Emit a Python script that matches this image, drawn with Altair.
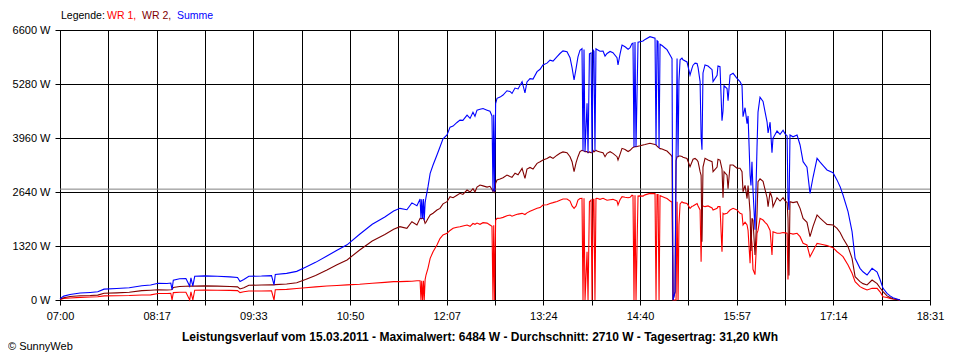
import altair as alt
import pandas as pd

# ---- axis / label data -------------------------------------------------
time_labels = ["07:00", "08:17", "09:33", "10:50", "12:07", "13:24",
               "14:40", "15:57", "17:14", "18:31"]
y_ticks = [0, 1320, 2640, 3960, 5280, 6600]
day_minutes = 691          # 07:00 .. 18:31
average_w = 2710
series_names = ["WR 1", "WR 2", "Summe"]
series_colors = ["#ff0000", "#800000", "#0000ff"]
title_text = ("Leistungsverlauf vom 15.03.2011 - Maximalwert: 6484 W - "
              "Durchschnitt: 2710 W - Tagesertrag: 31,20 kWh")

# ---- measured series (minutes after 07:00, watts) -----------------------
minutes = [
    0, 3, 8, 16, 24, 30, 35, 45, 55, 65, 72, 78, 85, 88, 89, 90, 95, 100, 103, 104,
    105.5, 107, 115, 125, 135, 141, 143, 146, 150, 160, 168, 170, 171, 180, 188, 195, 203, 212, 220, 228,
    238, 248, 258, 265, 270, 275.5, 279.5, 283.5, 286, 286.7, 287.3, 288, 288.7, 289.3, 290, 290.7, 292.3, 294, 296.3, 299.4,
    301.8, 304.2, 307.4, 309.8, 312.2, 315.3, 317.7, 320, 323.3, 325.7, 328, 329.6, 331.2, 333.6, 336, 339.2, 341.5, 343.1, 343.9, 344.5,
    345.2, 346, 347.1, 349.5, 351.9, 355, 357.4, 359, 361.4, 363.8, 367, 369.3, 370.9, 373.3, 375.7, 378.9, 381.3, 383.6, 386.8, 389.2,
    391.6, 394.8, 397.1, 399.5, 402.7, 405.1, 406.7, 408.3, 409.9, 411.4, 413, 414.6, 415.4, 416.2, 417, 418.6, 419.4, 420.5, 421.8, 422.6,
    423.4, 424.1, 424.9, 425.7, 426.5, 428.9, 431.3, 432.9, 434.5, 436.9, 439.2, 442.4, 443.2, 444.8, 446.4, 448.8, 451.2, 452.8, 454.3, 455.1,
    455.9, 456.7, 457.5, 459.1, 460.7, 463.1, 464.7, 468.6, 472.6, 473.4, 474.2, 475, 475.8, 476.6, 478.2, 480.5, 482.1, 485.3, 486.1, 486.9,
    488.5, 489.3, 490.1, 490.9, 491.6, 492.5, 494, 494.8, 498, 500.4, 502, 502.8, 504.4, 506, 506.8, 508.4, 509.2, 509.9, 510.7, 512.3,
    514.7, 517.9, 518.7, 521.9, 522.6, 524.2, 525.8, 526.6, 527.4, 529.8, 530.6, 532.2, 534.6, 537.7, 540.1, 541.7, 542.5, 544.1, 545.7, 546.5,
    548.1, 548.8, 549.6, 550.4, 552, 553.6, 554.4, 556, 558.4, 560, 561.6, 562.4, 564, 565.5, 566.3, 569.5, 571.9, 574.3, 575.9, 577.5,
    578.2, 579, 579.8, 582.2, 585.4, 587.8, 590.2, 593.3, 595.7, 598.1, 601.3, 603.7, 606.5, 609.2, 614, 617.2, 619.6, 621.9, 625.9, 629.1,
    631.5, 635.4, 637.8, 641, 645, 649, 651.3, 653.7, 656.9, 659.3, 661.6, 667.2,
]
wr1 = [
    10, 40, 50, 65, 75, 80, 100, 105, 110, 122, 125, 160, 160, 165, 0, 180, 190, 190, 0, 200,
    0, 240, 245, 240, 235, 230, 180, 200, 220, 220, 225, 0, 250, 260, 280, 300, 320, 342, 355, 370,
    385, 410, 430, 448, 448, 455, 460, 470, 472, 0, 470, 0, 470, 0, 500, 611, 780, 1018, 1180, 1344,
    1500, 1589, 1630, 1700, 1752, 1780, 1790, 1810, 1833, 1800, 1870, 1850, 1880, 1850, 1890, 1880, 1833, 1800, 0, 1830,
    0, 1950, 1996, 2000, 2020, 2060, 2078, 2050, 2080, 2100, 2118, 2090, 2130, 2170, 2200, 2241, 2260, 2322, 2330, 2360,
    2380, 2410, 2440, 2468, 2470, 2420, 2300, 2241, 2300, 2440, 2480, 2485, 0, 2485, 0, 1181, 0, 2400, 2440, 0,
    2460, 2460, 0, 2480, 2485, 2460, 2485, 2460, 2440, 2450, 2460, 2420, 2322, 2450, 2526, 2510, 2500, 2510, 2560, 2550,
    0, 2560, 0, 2540, 2545, 2540, 2570, 2607, 2600, 0, 2580, 2580, 0, 2550, 2530, 2500, 2480, 2403, 2400, 0,
    0, 0, 2403, 0, 1833, 2350, 2403, 2380, 2360, 2241, 2290, 2300, 2330, 2360, 2300, 2200, 937, 2250, 2300, 2282,
    2300, 2250, 2200, 2240, 2282, 2282, 1181, 2120, 2100, 2120, 2150, 2200, 2241, 2200, 2118, 2100, 1833, 1900, 1833, 1700,
    900, 1600, 1380, 750, 620, 1630, 1700, 1996, 1955, 1900, 1850, 1800, 1700, 1100, 1670, 1630, 1630, 1650, 1640, 1630,
    500, 1600, 1630, 1610, 1630, 1548, 1385, 1344, 1059, 1200, 1385, 1370, 1350, 1330, 1279, 1180, 1120, 1059, 856, 652,
    448, 326, 290, 244, 285, 285, 200, 81, 60, 40, 25, 0,
]
wr2 = [
    20, 55, 85, 105, 110, 120, 165, 175, 190, 228, 240, 250, 245, 250, 255, 305, 330, 335, 340, 340,
    340, 340, 345, 340, 330, 320, 270, 300, 360, 365, 370, 370, 375, 390, 420, 500, 600, 733, 860, 978,
    1222, 1440, 1600, 1727, 1792, 1752, 1914, 1833, 1996, 1990, 1990, 2000, 2000, 1950, 1874, 1900, 1990, 2078, 2120, 2200,
    2240, 2350, 2403, 2526, 2500, 2560, 2607, 2580, 2688, 2640, 2720, 2640, 2760, 2811, 2790, 2760, 2780, 2700, 2650, 2700,
    2650, 2850, 2933, 2960, 2990, 3055, 3020, 3000, 3100, 3060, 3218, 2974, 3200, 3240, 3200, 3340, 3380, 3422, 3460, 3503,
    3460, 3540, 3585, 3620, 3600, 3503, 3381, 3137, 3360, 3503, 3626, 3660, 3650, 3640, 3626, 3626, 3600, 3620, 3600, 3600,
    3650, 3620, 3640, 3660, 3640, 3620, 3600, 3503, 3585, 3626, 3585, 3503, 3422, 3560, 3707, 3680, 3630, 3660, 3707, 3730,
    3740, 3748, 3748, 3760, 3770, 3790, 3800, 3830, 3800, 3790, 3760, 3740, 3720, 3700, 3690, 3660, 3640, 3544, 3500, 0,
    200, 3400, 3500, 3500, 3520, 3520, 3510, 3490, 3460, 3259, 3380, 3440, 3460, 3420, 3380, 3137, 3050, 1426, 3250, 3463,
    3420, 3380, 3137, 3250, 3440, 3420, 3200, 2500, 3137, 3050, 2720, 3300, 3300, 3220, 3220, 3137, 2647, 2800, 2480, 2800,
    2150, 1200, 2000, 1950, 1100, 2100, 2892, 2960, 2900, 2700, 2500, 2282, 2647, 2500, 2282, 2500, 2420, 2500, 2420, 2380,
    2000, 600, 2403, 2380, 2403, 2241, 1996, 1900, 1548, 1800, 2078, 2000, 1920, 1849, 1833, 1750, 1650, 1507, 1304, 1018,
    570, 448, 400, 367, 489, 400, 300, 204, 100, 60, 30, 0,
]
# "Summe" is by definition the total of both inverters
summe = [a + b for a, b in zip(wr1, wr2)]

rows = []
for name, vals in zip(series_names, [wr1, wr2, summe]):
    for t, v in zip(minutes, vals):
        rows.append({"t": t, "w": v, "series": name})
df = pd.DataFrame(rows)

# ---- scales & axes ------------------------------------------------------
n_div = 18
x_values = [i * day_minutes / n_div for i in range(n_div + 1)]
all_labels = [time_labels[i // 2] if i % 2 == 0 else "" for i in range(n_div + 1)]
label_expr = "[" + ",".join("'%s'" % s for s in all_labels) + \
    "][round(datum.value * %d / %d)]" % (n_div, day_minutes)

FONT = "Liberation Sans"

x_enc = alt.X("t:Q",
              scale=alt.Scale(domain=[0, day_minutes], nice=False, zero=False),
              axis=alt.Axis(values=x_values, labelExpr=label_expr, grid=True,
                            tickSize=5, labelPadding=5, title=None,
                            labelFlush=False, labelOverlap=False))
y_enc = alt.Y("w:Q",
              scale=alt.Scale(domain=[0, 6600], nice=False),
              axis=alt.Axis(values=y_ticks, labelExpr="datum.value + ' W'",
                            grid=True, tickSize=5, labelPadding=5, title=None,
                            labelOverlap=False, labelFlush=False))

avg_rule = alt.Chart(alt.Data(values=[{"avg": average_w}])).mark_rule(
    color="#808080", strokeWidth=1
).encode(y=alt.Y("avg:Q"))

lines = alt.Chart(df).mark_line(strokeWidth=1.1, interpolate="linear").encode(
    x=x_enc,
    y=y_enc,
    color=alt.Color("series:N",
                    scale=alt.Scale(domain=series_names, range=series_colors),
                    legend=None),
    order=alt.Order("t:Q"),
)

one = alt.Data(values=[{"k": 1}])


def label(text, x, y, color="black", size=11, weight="normal", align="left"):
    return alt.Chart(one).mark_text(
        text=text, align=align, baseline="middle", font=FONT, fontSize=size,
        fontWeight=weight, color=color
    ).encode(x=alt.value(x), y=alt.value(y))


legend_parts = [
    label("Legende:", 1, -14, size=10.5),
    label("WR 1,", 47, -14, series_colors[0], size=10.5),
    label("WR 2,", 82, -14, series_colors[1], size=10.5),
    label("Summe", 117, -14, series_colors[2], size=10.5),
]
title_mark = label(title_text, 420, 307, weight="bold", size=12, align="center")
credit = label("© SunnyWeb", -52, 317)

chart = alt.layer(avg_rule, lines, *legend_parts, title_mark, credit).properties(
    width=870, height=270,
    padding={"left": 52, "top": 22, "right": 22, "bottom": 52},
    autosize=alt.AutoSizeParams(type="none"),
    background="white",
).configure_view(
    stroke="black", strokeWidth=1
).configure_axis(
    gridColor="black", gridOpacity=1, gridWidth=1,
    domainColor="black", tickColor="black", labelColor="black",
    labelFont=FONT, labelFontSize=11,
)

chart.save("out.html", embed_options={"renderer": "svg", "actions": False})
